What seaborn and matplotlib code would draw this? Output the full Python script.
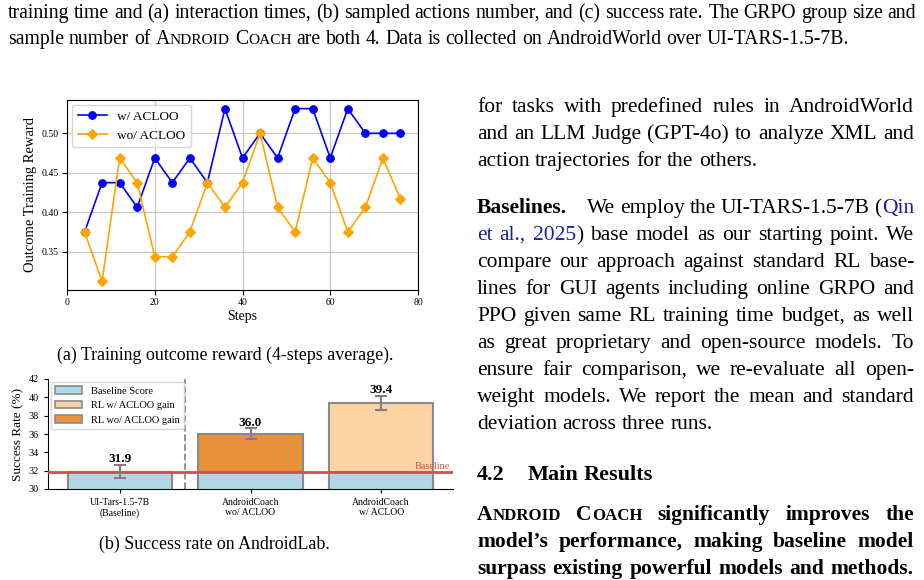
import pandas as pd
import matplotlib.pyplot as plt
import matplotlib.patches as mpatches
import seaborn as sns

# ---- data: (a) training outcome reward, 4-step average ----
steps = [4, 8, 12, 16, 20, 24, 28, 32, 36, 40, 44, 48, 52, 56, 60, 64, 68, 72, 76]
reward_w_acloo = [0.375, 0.4375, 0.4375, 0.40625, 0.46875, 0.4375, 0.46875, 0.4375, 0.53125, 0.46875,
                  0.5, 0.46875, 0.53125, 0.53125, 0.46875, 0.53125, 0.5, 0.5, 0.5]
reward_wo_acloo = [0.375, 0.3125, 0.46875, 0.4375, 0.34375, 0.34375, 0.375, 0.4375, 0.40625, 0.4375,
                   0.5, 0.40625, 0.375, 0.46875, 0.4375, 0.375, 0.40625, 0.46875, 0.4167]

# ---- data: (b) success rate on AndroidLab ----
methods = ["UI-Tars-1.5-7B\n(Baseline)", "AndroidCoach\nwo/ ACLOO", "AndroidCoach\nw/ ACLOO"]
success = [31.9, 36.0, 39.4]
success_std = [0.7, 0.6, 0.8]
baseline_score = 31.9

W, H = 924, 580
plt.rcParams["font.family"] = ["Liberation Serif", "DejaVu Serif"]
plt.rcParams["mathtext.fontset"] = "stix"

fig = plt.figure(figsize=(W / 100, H / 100), dpi=100)


def box(left, top, right, bottom):
    # pixel box -> figure fraction rect
    return [left / W, 1 - bottom / H, (right - left) / W, (bottom - top) / H]


# ---------------- (a) line chart ----------------
ax1 = fig.add_axes(box(67, 100, 418, 290))
df_a = pd.DataFrame({"step": steps, "w": reward_w_acloo, "wo": reward_wo_acloo})
sns.lineplot(data=df_a, x="step", y="w", ax=ax1, color="blue", marker="o", markersize=5.5,
             markeredgecolor="blue", linewidth=1.2, label="w/ ACLOO")
sns.lineplot(data=df_a, x="step", y="wo", ax=ax1, color="orange", marker="D", markersize=5.5,
             markeredgecolor="orange", linewidth=1.2, label="wo/ ACLOO")
ax1.set_xlim(0, 80)
ax1.set_xticks([0, 20, 40, 60, 80])
ax1.set_yticks([0.35, 0.40, 0.45, 0.50])
ax1.set_yticklabels(["0.35", "0.40", "0.45", "0.50"])
ax1.grid(True, color="#c8c8c8", linewidth=0.9)
ax1.set_axisbelow(True)
ax1.tick_params(labelsize=7, length=3.5, pad=2.5)
ax1.set_xlabel("Steps", fontsize=10, labelpad=2)
ax1.set_ylabel("Outcome Training Reward", fontsize=10.5, labelpad=3)
ax1.legend(loc="upper left", fontsize=9.5, borderaxespad=0.4, handlelength=2.2)

# ---------------- (b) bar chart ----------------
ax2 = fig.add_axes(box(48, 379, 453, 489))
c_base = "#add8e6"
c_wo = "#e8923a"
c_w = "#fdd3a4"
edge = "#8a8a8a"
df_b = pd.DataFrame({"method": methods, "success": success})
sns.barplot(data=df_b, x="method", y="success", hue="method",
            palette=[c_base, c_wo, c_w], legend=False, width=0.8, saturation=1,
            edgecolor=edge, linewidth=1.5, ax=ax2)
sns.barplot(x=methods, y=[baseline_score] * len(methods), color=c_base, width=0.8,
            saturation=1, edgecolor=edge, linewidth=1.5, ax=ax2)
ax2.errorbar(range(len(methods)), success, yerr=success_std, fmt="none",
             ecolor="#7f7f7f", elinewidth=1.5, capsize=4, capthick=1.5, zorder=4)
for i, (v, e) in enumerate(zip(success, success_std)):
    ax2.text(i, v + e + 0.65, f"{v:.1f}", ha="center", va="center",
             fontsize=9.5, fontweight="bold")
ax2.axhline(baseline_score, color="#d0524a", linewidth=2, zorder=3)
ax2.text(2.53, baseline_score + 0.1, "Baseline", color="#d0524a", fontsize=7.4,
         ha="right", va="bottom")
ax2.axvline(0.5, color="#8a8a8a", linestyle="--", linewidth=1.3)
ax2.set_ylim(30, 42)
ax2.set_yticks(range(30, 43, 2))
ax2.set_xlim(-0.55, 2.55)
ax2.set_xlabel("")
ax2.set_ylabel("Success Rate (%)", fontsize=9.5, labelpad=3)
ax2.tick_params(axis="y", labelsize=7.3, length=3)
ax2.tick_params(axis="x", labelsize=7.0, length=3)
sns.despine(ax=ax2)
handles = [mpatches.Patch(facecolor=c, edgecolor=edge, linewidth=1.2, label=l)
           for c, l in [(c_base, "Baseline Score"), (c_w, "RL w/ ACLOO gain"),
                        (c_wo, "RL wo/ ACLOO gain")]]
ax2.legend(handles=handles, loc="upper left", fontsize=7.5, borderaxespad=0.3,
           handlelength=2.6, labelspacing=0.5)

# ---------------- page text ----------------
rend = fig.canvas.get_renderer()


def sc(word, size, **kw):
    # small caps: first letter full size, rest smaller capitals
    return [(word[0], dict(kw, fontsize=size)), (word[1:], dict(kw, fontsize=size * 0.78))]


def put_line(y, words, x0, x1=None, size=15.5, **base):
    blocks = []
    extra = 0.0
    for w in words:
        if isinstance(w, (int, float)):
            blocks.append(("gap", w))
            extra += w
            continue
        if isinstance(w, str):
            w = [(w, {})]
        parts, width = [], 0.0
        for s, kw in w:
            opts = dict(fontsize=size, va="baseline", ha="left")
            opts.update(base)
            opts.update(kw)
            t = fig.text(0, 1 - y / H, s, **opts)
            parts.append((t, width))
            width += t.get_window_extent(renderer=rend).width
        blocks.append((parts, width))
    words_only = [b for b in blocks if b[0] != "gap"]
    total = sum(b[1] for b in words_only) + extra
    n = len(words_only)
    if x1 is not None and n > 1:
        gap = (x1 - x0 - total) / (n - 1)
    else:
        gap = size * 100 / 72 * 0.25
    x = x0
    first = True
    for b in blocks:
        if b[0] == "gap":
            x += b[1]
            continue
        if not first:
            x += gap
        first = False
        parts, width = b
        for t, off in parts:
            t.set_x((x + off) / W)
        x += width


# figure caption at the top of the page
cap = 14.2
put_line(18, "training time and (a) interaction times, (b) sampled actions number, and (c) success rate. "
             "The GRPO group size and".split(), 8, 916, size=cap)
put_line(44, ["sample", "number", "of", sc("ANDROID", cap), sc("COACH", cap)] +
         "are both 4. Data is collected on AndroidWorld over UI-TARS-1.5-7B.".split(), 8, None, size=cap)

# sub-captions
sub = 12.9
fig.text(225 / W, 1 - 355 / H, "(a) Training outcome reward (4-steps average).", fontsize=sub,
         ha="center", va="center")
fig.text(214 / W, 1 - 544 / H, "(b) Success rate on AndroidLab.", fontsize=sub,
         ha="center", va="center")

# right column body text
L, R = 477, 914
link = "#1f1fa3"
put_line(112, "for tasks with predefined rules in AndroidWorld".split(), L, R)
put_line(139, "and an LLM Judge (GPT-4o) to analyze XML and".split(), L, R)
put_line(166, "action trajectories for the others.".split(), L)
put_line(213, [[("Baselines.", {"fontweight": "bold"})], 15] +
         "We employ the UI-TARS-1.5-7B".split() + [[("(", {}), ("Qin", {"color": link})]], L, R)
put_line(240, [[("et", {"color": link})], [("al.,", {"color": link})],
               [("2025", {"color": link}), (")", {})]] +
         "base model as our starting point. We".split(), L, R)
put_line(267, "compare our approach against standard RL base-".split(), L, R)
put_line(294, "lines for GUI agents including online GRPO and".split(), L, R)
put_line(321, "PPO given same RL training time budget, as well".split(), L, R)
put_line(348, "as great proprietary and open-source models. To".split(), L, R)
put_line(375, "ensure fair comparison, we re-evaluate all open-".split(), L, R)
put_line(402, "weight models. We report the mean and standard".split(), L, R)
put_line(429, "deviation across three runs.".split(), L)

put_line(480, ["4.2", 17, "Main", "Results"], L, None, size=16, fontweight="bold")

bsz = 15.5
put_line(520, [sc("ANDROID", bsz, fontweight="bold"), sc("COACH", bsz, fontweight="bold")] +
         [[(w, {"fontweight": "bold"})] for w in "significantly improves the".split()], L, R, size=bsz)
put_line(547, "model’s performance, making baseline model".split(), L, R, size=bsz, fontweight="bold")
put_line(574, "surpass existing powerful models and methods.".split(), L, R, size=bsz, fontweight="bold")

fig.savefig("out.png", dpi=100)
